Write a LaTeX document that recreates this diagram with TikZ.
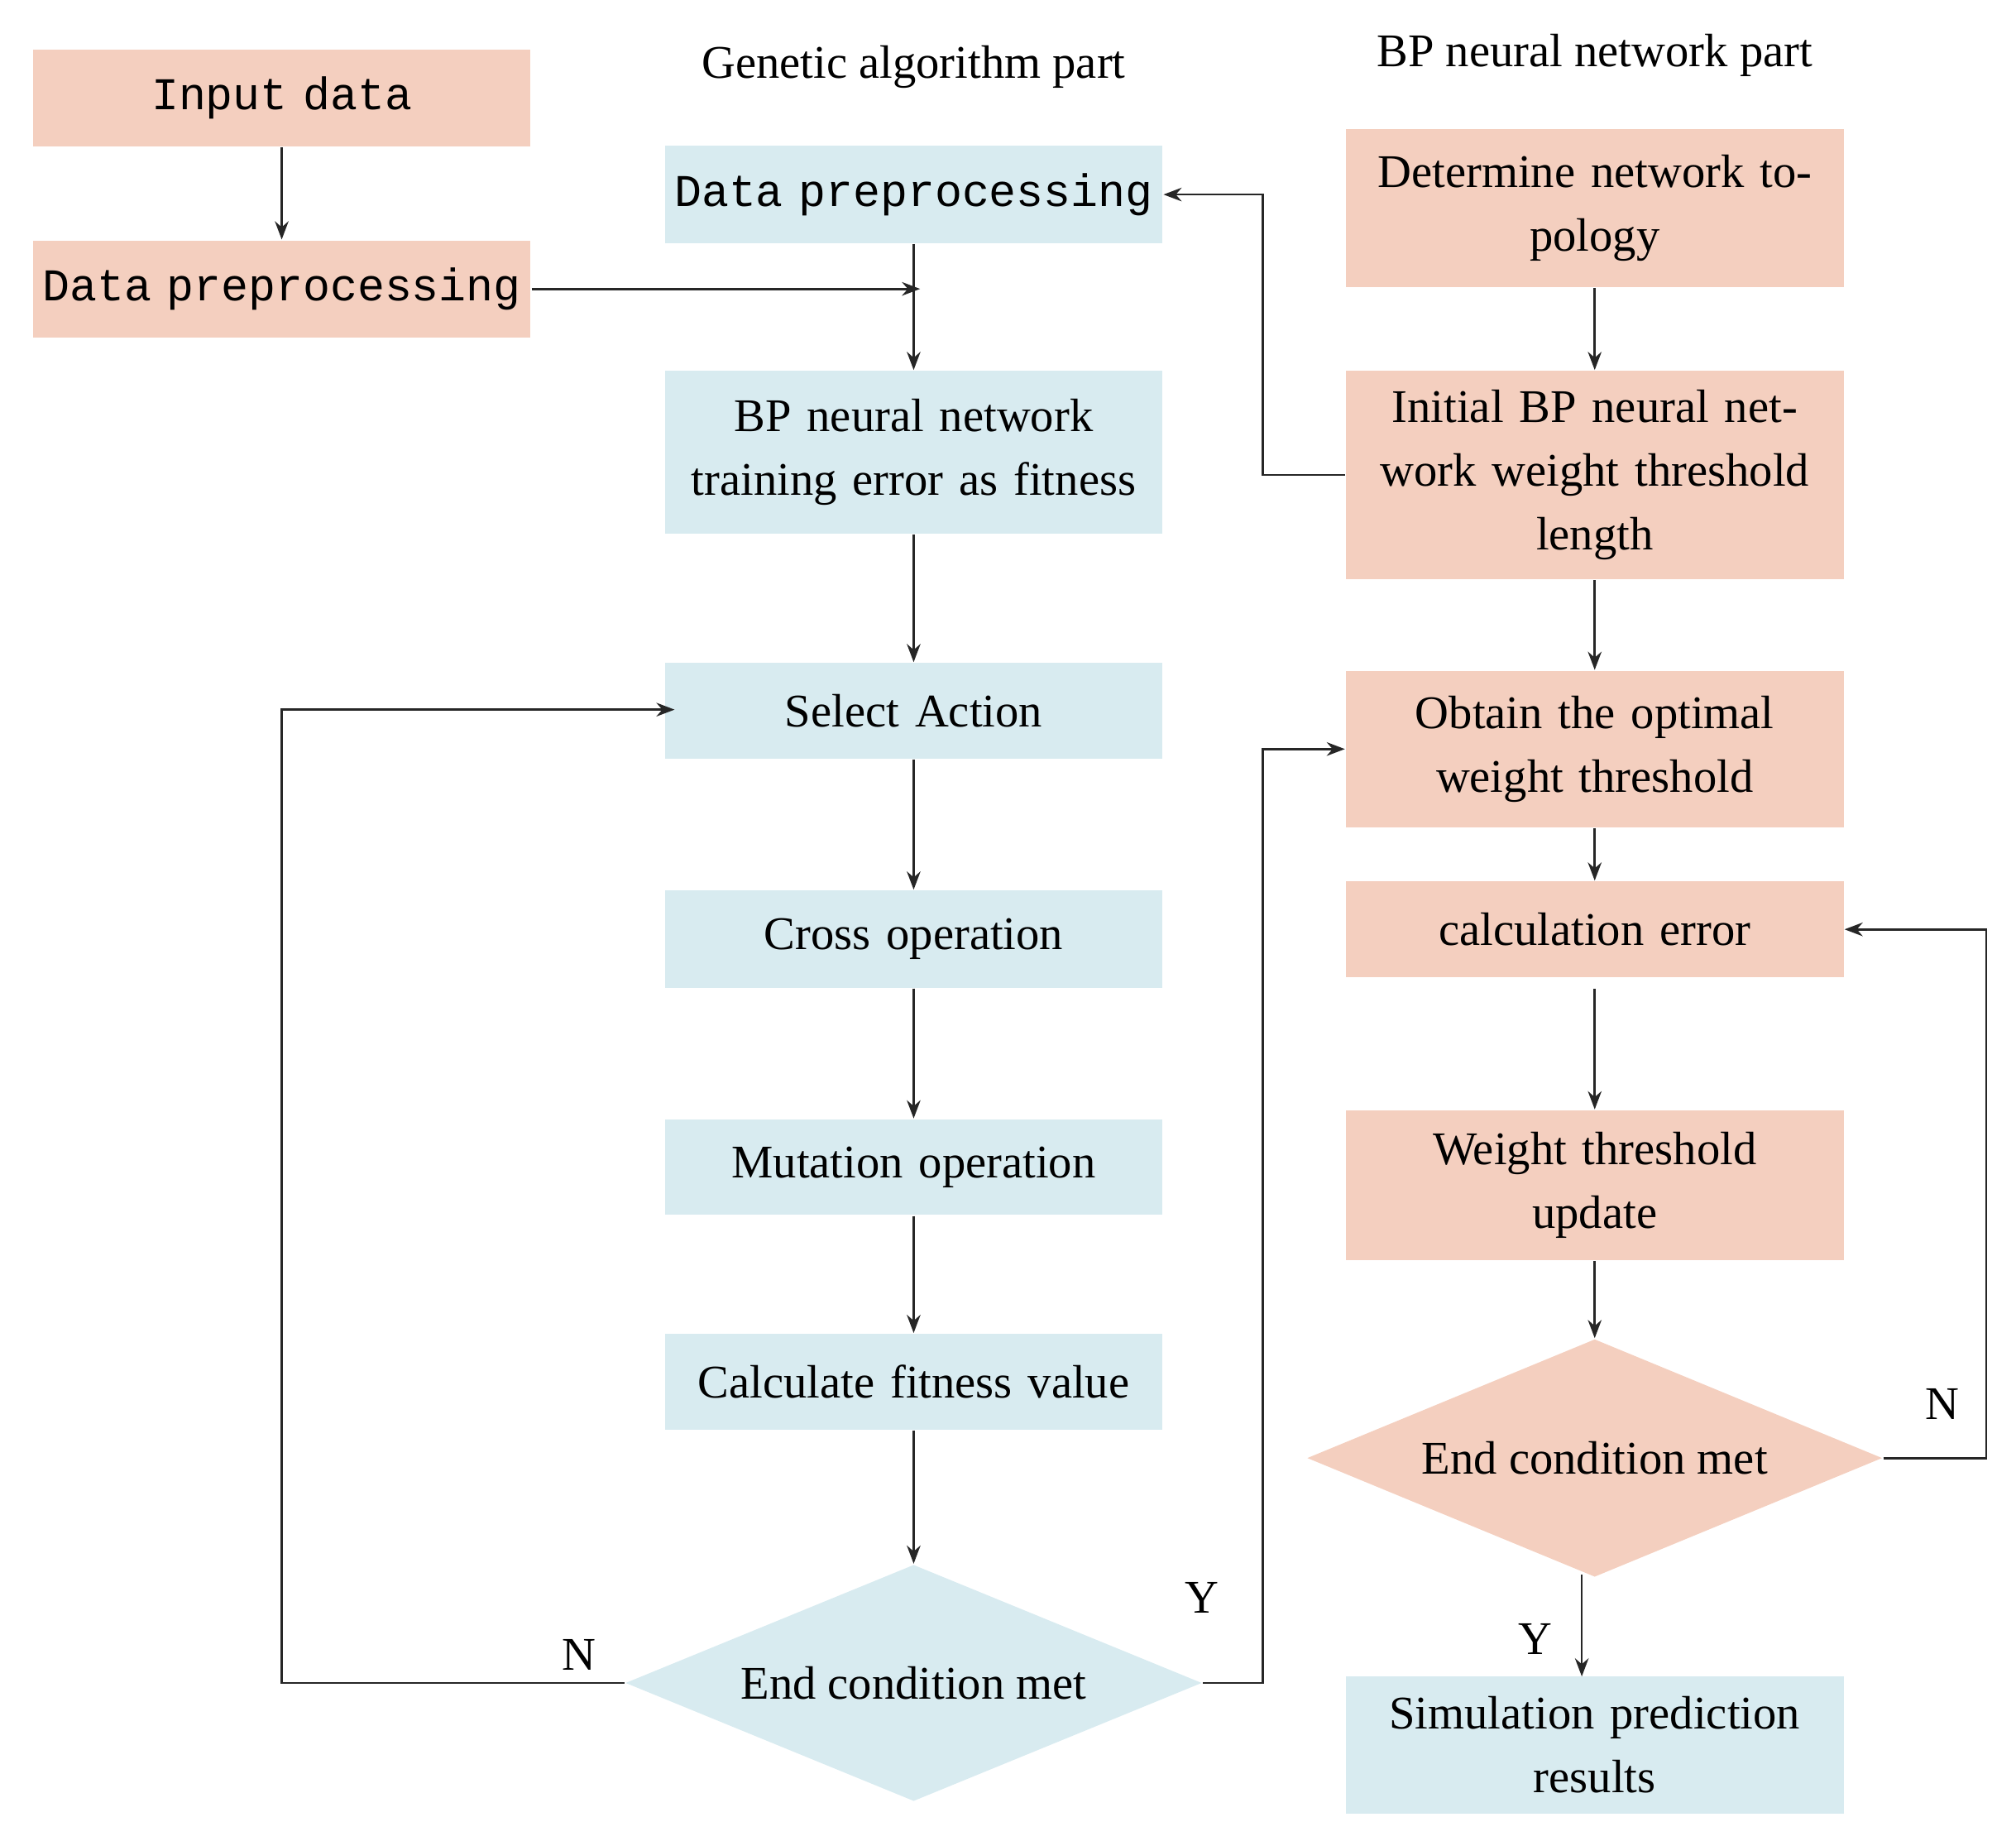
\documentclass[tikz,border=0pt]{standalone}
\usepackage{fontspec}
\setmainfont{Liberation Serif}
\setmonofont{Liberation Mono}
\usetikzlibrary{shapes.geometric,arrows.meta}
\definecolor{org}{RGB}{244,207,191}
\definecolor{blu}{RGB}{216,235,240}
\begin{document}
\begin{tikzpicture}[x=0.01cm,y=-0.01cm,
  box/.style={draw=none,minimum width=3.85cm,text width=3.8cm,align=center,font=\fontsize{10.3}{14}\selectfont,inner sep=0pt},
  ob/.style={box,fill=org}, bb/.style={box,fill=blu},
  mono/.style={font=\ttfamily\fontsize{10}{14}\selectfont},
  dia/.style={diamond,aspect=2.45,inner sep=0pt,font=\fontsize{10.3}{14}\selectfont},
  ar/.style={draw=black!85,line width=0.5pt,-{Stealth[length=4pt,width=3pt]}},
  lab/.style={font=\fontsize{10.3}{14}\selectfont}]
\useasboundingbox (0,0) rectangle (1560,1424);
\node[lab] (t1) at (707,52) {Genetic algorithm part};
\node[lab] (t2) at (1234,43) {BP neural network part};
% left
\node[ob,mono,minimum height=0.75cm] (in) at (218,76) {Input data};
\node[ob,mono,minimum height=0.75cm] (dpl) at (218,223.5) {Data preprocessing};
% GA
\node[bb,mono,minimum height=0.75cm] (dpg) at (707,150.5) {Data preprocessing};
\node[bb,minimum height=1.26cm] (bpt) at (707,350) {BP neural network\\training error as fitness};
\node[bb,minimum height=0.74cm] (sel) at (707,550) {Select Action};
\node[bb,minimum height=0.75cm] (cro) at (707,726.5) {Cross operation};
\node[bb,minimum height=0.74cm] (mut) at (707,903) {Mutation operation};
\node[bb,minimum height=0.74cm] (cal) at (707,1069) {Calculate fitness value};
\node[dia,fill=blu,minimum width=4.46cm,minimum height=1.83cm] (d1) at (707,1302) {End condition met};
% BP
\node[ob,minimum height=1.22cm] (det) at (1234,161) {Determine network to-\\pology};
\node[ob,minimum height=1.61cm] (ini) at (1234,367.5) {Initial BP neural net-\\work weight threshold\\length};
\node[ob,minimum height=1.21cm] (obt) at (1234,579.5) {Obtain the optimal\\weight threshold};
\node[ob,minimum height=0.74cm] (ce) at (1234,719) {calculation error};
\node[ob,minimum height=1.16cm] (wtu) at (1234,917) {Weight threshold\\update};
\node[dia,fill=org,minimum width=4.45cm,minimum height=1.84cm] (d2) at (1234,1128) {End condition met};
\node[bb,minimum height=1.06cm] (sim) at (1234,1350) {Simulation prediction\\results};
% connectors
\coordinate (j1) at (712,223.5);
\coordinate (s1) at (522,549);
\draw[ar] (in) -- (dpl);
\draw[ar] (dpl.east) -- (j1);
\draw[ar] (dpg) -- (bpt);
\draw[ar] (ini.west) -- (977,367.5) -- (977,150.5) -- (dpg.east);
\draw[ar] (bpt) -- (sel);
\draw[ar] (sel) -- (cro);
\draw[ar] (cro) -- (mut);
\draw[ar] (mut) -- (cal);
\draw[ar] (cal) -- (d1);
\draw[ar] (d1.west) -- (218,1302) |- (s1);
\node[lab] (n1) at (448,1280) {N};
\draw[ar] (d1.east) -- (977,1302) |- (obt.west);
\node[lab] (y1) at (930,1236) {Y};
\draw[ar] (det) -- (ini);
\draw[ar] (ini) -- (obt);
\draw[ar] (obt) -- (ce);
\draw[ar] (1234,765) -- (wtu);
\draw[ar] (wtu) -- (d2);
\draw[ar] (d2.east) -- (1537,1128) |- (ce.east);
\node[lab] (n2) at (1503,1086) {N};
\draw[ar] (1224,1218) -- (1224,1297);
\node[lab] (y2) at (1188,1268) {Y};
\end{tikzpicture}
\end{document}
